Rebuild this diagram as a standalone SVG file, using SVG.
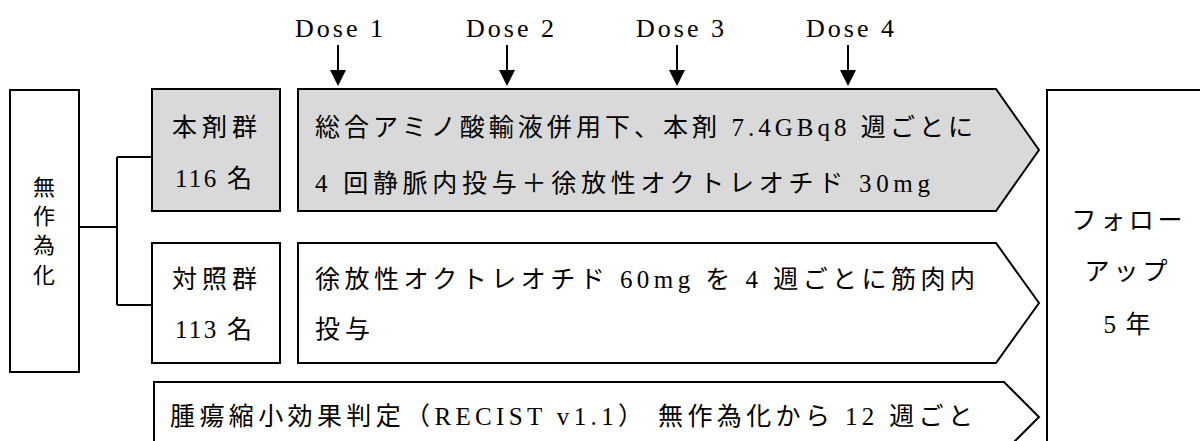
<svg xmlns="http://www.w3.org/2000/svg" width="1200" height="441" viewBox="0 0 1200 441">
<defs>
<style>
.box{fill:#fff;stroke:#000;stroke-width:2}
.gray{fill:#d9d9d9;stroke:#000;stroke-width:2}
.t{font-family:"Liberation Serif","Noto Sans CJK JP",serif;font-size:25px;fill:#000}
.d{font-size:26px}
.m{text-anchor:middle}
.ln{fill:none;stroke:#000;stroke-width:2}
.ar{fill:none;stroke:#000;stroke-width:2}
</style>
</defs>
<rect width="1200" height="441" fill="#fff"/>

<g id="doses">
<text class="t d m" x="339" y="37" textLength="88" lengthAdjust="spacing">Dose 1</text>
<text class="t d m" x="510" y="37" textLength="88" lengthAdjust="spacing">Dose 2</text>
<text class="t d m" x="680" y="37" textLength="88" lengthAdjust="spacing">Dose 3</text>
<text class="t d m" x="850" y="37" textLength="88" lengthAdjust="spacing">Dose 4</text>
</g>

<g id="connectors">
<line class="ar" x1="338" y1="45" x2="338" y2="72"/><path d="M330,70 L346,70 L338,86 Z"/>
<line class="ar" x1="507" y1="45" x2="507" y2="72"/><path d="M499,70 L515,70 L507,86 Z"/>
<line class="ar" x1="677" y1="45" x2="677" y2="72"/><path d="M669,70 L685,70 L677,86 Z"/>
<line class="ar" x1="848" y1="45" x2="848" y2="72"/><path d="M840,70 L856,70 L848,86 Z"/>
<path class="ln" d="M79,227 H117 M117,157 V305 M117,157 H152 M117,305 H152"/>
</g>

<g id="randomization">
<rect class="box" x="10" y="90" width="69" height="282"/>
<text class="t m" x="44" y="195" style="font-size:22px">無</text>
<text class="t m" x="44" y="224" style="font-size:22px">作</text>
<text class="t m" x="44" y="253" style="font-size:22px">為</text>
<text class="t m" x="44" y="283" style="font-size:22px">化</text>
</g>

<g id="arm-drug">
<rect class="gray" x="152" y="89" width="128" height="122"/>
<text class="t" x="172" y="136" textLength="85" lengthAdjust="spacing">本剤群</text>
<text class="t" x="175" y="187" textLength="77" lengthAdjust="spacing">116 名</text>
</g>

<g id="arm-control">
<rect class="box" x="152" y="243" width="128" height="120"/>
<text class="t" x="172" y="288" textLength="85" lengthAdjust="spacing">対照群</text>
<text class="t" x="175" y="338" textLength="77" lengthAdjust="spacing">113 名</text>
</g>

<g id="treatment-drug">
<path class="gray" d="M298,89 H996 L1039,150 L996,211 H298 Z"/>
<text class="t" x="315" y="136" textLength="658" lengthAdjust="spacing">総合アミノ酸輸液併用下、本剤 7.4GBq8 週ごとに</text>
<text class="t" x="315" y="192" textLength="615" lengthAdjust="spacing">4 回静脈内投与＋徐放性オクトレオチド 30mg</text>
</g>

<g id="treatment-control">
<path class="box" d="M298,243 H996 L1039,303 L996,363 H298 Z"/>
<text class="t" x="315" y="288" textLength="660" lengthAdjust="spacing">徐放性オクトレオチド 60mg を 4 週ごとに筋肉内</text>
<text class="t" x="315" y="338" textLength="55" lengthAdjust="spacing">投与</text>
</g>

<g id="assessment">
<path class="box" d="M154,382 H1004 L1039,417 L1004,452 H154 Z"/>
<text class="t" x="170" y="425" textLength="803" lengthAdjust="spacing">腫瘍縮小効果判定（RECIST v1.1） 無作為化から 12 週ごと</text>
</g>

<g id="followup">
<rect class="box" x="1047" y="90" width="170" height="370"/>
<text class="t m" x="1127" y="229" textLength="111" lengthAdjust="spacing">フォロー</text>
<text class="t m" x="1126" y="280" textLength="83" lengthAdjust="spacing">アップ</text>
<text class="t m" x="1127" y="333" textLength="47" lengthAdjust="spacing">5 年</text>
</g>
</svg>
